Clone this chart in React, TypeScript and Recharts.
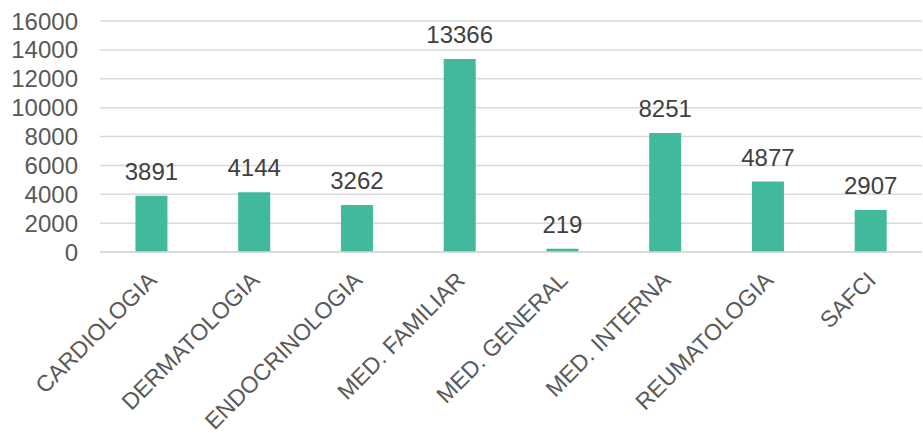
import React from "react";
import { BarChart, Bar, XAxis, YAxis, CartesianGrid, LabelList } from "recharts";

const categories = [
  "CARDIOLOGIA",
  "DERMATOLOGIA",
  "ENDOCRINOLOGIA",
  "MED. FAMILIAR",
  "MED. GENERAL",
  "MED. INTERNA",
  "REUMATOLOGIA",
  "SAFCI",
];
const values = [3891, 4144, 3262, 13366, 219, 8251, 4877, 2907];
const yTicks = [0, 2000, 4000, 6000, 8000, 10000, 12000, 14000, 16000];

const data = categories.map((name, i) => ({ name, value: values[i] }));

const FONT = "'Liberation Sans', Arial, sans-serif";

const XTick = (props: any) => {
  const { x, y, payload } = props;
  return (
    <g transform={`translate(${x + 1},${y + 16})`}>
      <text
        transform="rotate(-45)"
        textAnchor="end"
        fill="#595959"
        fontSize={23}
        fontFamily={FONT}
        dy={8}
      >
        {payload.value}
      </text>
    </g>
  );
};

export default function App() {
  return (
    <div style={{ position: "absolute", left: 0, top: 0 }}>
      <BarChart
        width={923}
        height={436}
        data={data}
        margin={{ top: 21, right: 1, bottom: 0, left: 0 }}
        barCategoryGap="34.5%"
      >
        <CartesianGrid vertical={false} stroke="#d9d9d9" strokeWidth={1.5} />
        <XAxis
          dataKey="name"
          interval={0}
          height={184}
          axisLine={{ stroke: "#d9d9d9", strokeWidth: 1.5 }}
          tickLine={false}
          tick={<XTick />}
        />
        <YAxis
          width={100}
          domain={[0, 16000]}
          ticks={yTicks}
          interval={0}
          axisLine={false}
          tickLine={false}
          tickSize={0}
          tickMargin={22}
          tick={{ fill: "#595959", fontSize: 24, fontFamily: FONT }}
        />
        <Bar dataKey="value" fill="#40B99C" isAnimationActive={false}>
          <LabelList
            dataKey="value"
            position="top"
            offset={16}
            fill="#404040"
            fontSize={24}
            fontFamily={FONT}
          />
        </Bar>
      </BarChart>
    </div>
  );
}
